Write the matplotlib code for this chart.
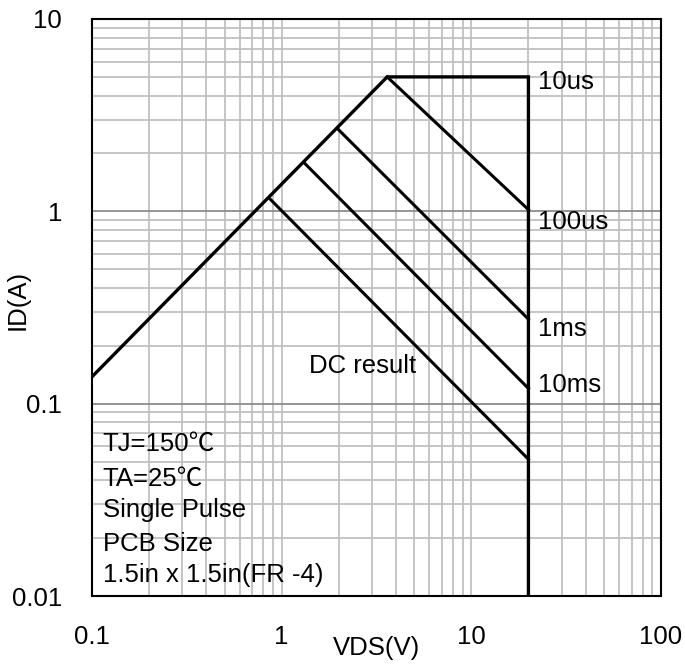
import numpy as np
import matplotlib
matplotlib.use("Agg")
import matplotlib.pyplot as plt
from matplotlib.ticker import LogLocator, FixedLocator, FixedFormatter, NullFormatter

plt.rcParams['font.family'] = ['Liberation Sans', 'Noto Sans CJK SC', 'DejaVu Sans']

# SOA boundary: Rds(on) limit -> current limit -> VDS limit
boundary_vds = [0.1, 3.6, 20.0, 20.0]
boundary_id = [0.138, 5.0, 5.0, 0.01]

# power-limited pulse lines (start on Rds line, end at VDS = 20 V)
pulse_names = ["100us", "1ms", "10ms", "DC result"]
pulse_start_vds = [3.6, 1.97, 1.32, 0.86]
pulse_start_id = [5.0, 2.69, 1.78, 1.17]
pulse_end_vds = [20.0, 20.0, 20.0, 20.0]
pulse_end_id = [1.02, 0.275, 0.12, 0.0514]

# curve labels
label_texts = ["10us", "100us", "1ms", "10ms", "DC result"]
label_x = [22.4, 22.4, 22.4, 22.4, 1.40]
label_y = [4.72, 0.875, 0.245, 0.125, 0.157]

note_lines = ["TJ=150\u2103", "TA=25\u2103", "Single Pulse", "PCB Size", "1.5in x 1.5in(FR -4)"]
note_y = [0.2636, 0.203, 0.149, 0.090, 0.036]

x_ticks = [0.1, 1, 10, 100]
x_ticklabels = ["0.1", "1", "10", "100"]
y_ticks = [0.01, 0.1, 1, 10]
y_ticklabels = ["0.01", "0.1", "1", "10"]

fs = 18.5
fig = plt.figure(figsize=(6.85, 6.66), dpi=100)
ax = fig.add_axes([92 / 685, 70 / 666, 569 / 685, 577 / 666])
ax.set_xscale("log")
ax.set_yscale("log")
ax.set_xlim(0.1, 100)
ax.set_ylim(0.01, 10)

# grid
ax.xaxis.set_minor_locator(LogLocator(base=10, subs=np.arange(2, 10)))
ax.yaxis.set_minor_locator(LogLocator(base=10, subs=np.arange(2, 10)))
ax.xaxis.set_minor_formatter(NullFormatter())
ax.yaxis.set_minor_formatter(NullFormatter())
ax.grid(which="minor", axis="both", color="#c0c0c0", lw=1.3)
ax.grid(which="major", axis="x", color="#c0c0c0", lw=1.3)
ax.grid(which="major", axis="y", color="#8c8c8c", lw=1.3)
ax.set_axisbelow(True)

ax.plot(boundary_vds, boundary_id, color="black", lw=2.4, solid_joinstyle="miter")
for i in range(len(pulse_names)):
    ax.plot([pulse_start_vds[i], pulse_end_vds[i]], [pulse_start_id[i], pulse_end_id[i]],
            color="black", lw=2.2)

for t, x, y in zip(label_texts, label_x, label_y):
    ax.text(x, y, t, fontsize=fs, ha="left", va="center")

for t, y in zip(note_lines, note_y):
    ax.text(0.019, y, t, transform=ax.transAxes, fontsize=fs, ha="left", va="center")

ax.xaxis.set_major_locator(FixedLocator(x_ticks))
ax.xaxis.set_major_formatter(FixedFormatter(x_ticklabels))
ax.yaxis.set_major_locator(FixedLocator(y_ticks))
ax.yaxis.set_major_formatter(FixedFormatter(y_ticklabels))
ax.tick_params(which="both", length=0)
ax.tick_params(axis="x", labelsize=fs, pad=21)
ax.tick_params(axis="y", labelsize=fs, pad=21.5)

ax.set_xlabel("VDS(V)", fontsize=fs, va="center")
ax.xaxis.set_label_coords(0.5, -0.09)
ax.set_ylabel("ID(A)", fontsize=fs, va="center")
ax.yaxis.set_label_coords(-0.13, 0.513)

for s in ax.spines.values():
    s.set_color("black")
    s.set_linewidth(1.5)

fig.savefig("out.png", dpi=100)
